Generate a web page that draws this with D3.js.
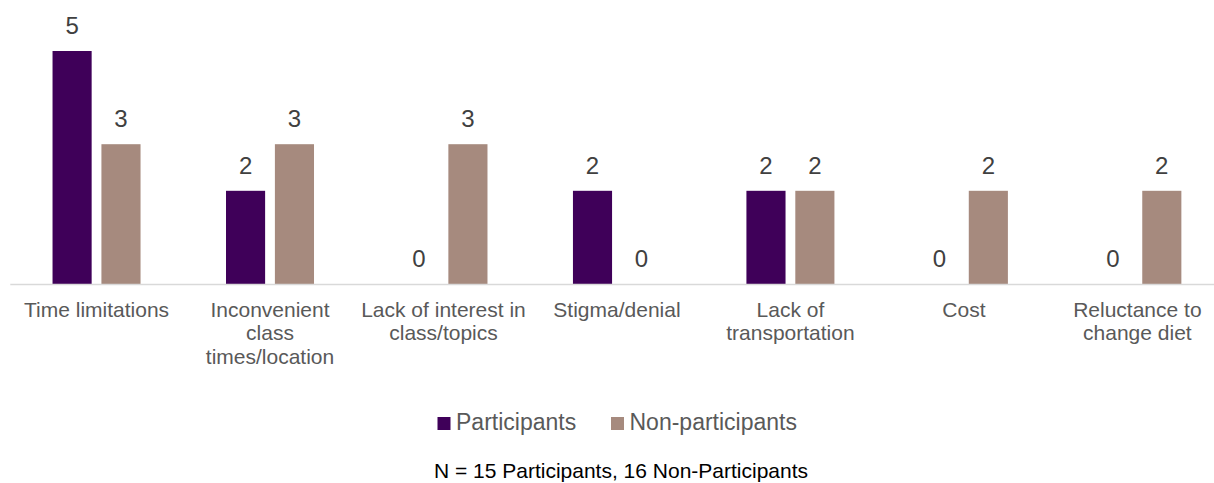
<!DOCTYPE html>
<html>
<head>
<meta charset="utf-8">
<script src="https://cdn.jsdelivr.net/npm/d3@7"></script>
<style>
  html, body { margin: 0; padding: 0; background: #fff; }
  svg { display: block; font-family: "Liberation Sans", Arial, sans-serif; }
</style>
</head>
<body>
<svg id="chart" width="1214" height="483"></svg>
<script>
// Reasons given for not attending classes, by group
const categories = [
  "Time limitations",
  "Inconvenient\nclass\ntimes/location",
  "Lack of interest in\nclass/topics",
  "Stigma/denial",
  "Lack of\ntransportation",
  "Cost",
  "Reluctance to\nchange diet"
];
const seriesNames = ["Participants", "Non-participants"];
const participants = [5, 2, 0, 2, 2, 0, 0];
const nonParticipants = [3, 3, 3, 0, 2, 2, 2];
const seriesColors = ["#3F0059", "#A68A7E"];
const footnote = "N = 15 Participants, 16 Non-Participants";

const seriesValues = [participants, nonParticipants];

const svg = d3.select("#chart");

const x0 = d3.scaleBand()
  .domain(categories)
  .range([9.8, 1224.1])
  .paddingInner(0)
  .paddingOuter(0);

const groupWidth = 88;
const x1 = d3.scaleBand()
  .domain(seriesNames)
  .range([0, groupWidth])
  .paddingInner(0.2);

const y = d3.scaleLinear()
  .domain([0, 5])
  .range([284, 51]);

const groupOffset = (x0.bandwidth() - groupWidth) / 2;

// Bars and value labels
const groups = svg.append("g")
  .selectAll("g")
  .data(categories)
  .join("g")
  .attr("transform", d => `translate(${x0(d) + groupOffset},0)`);

groups.selectAll("rect")
  .data((d, i) => seriesNames.map((s, j) => ({ s, v: seriesValues[j][i], c: seriesColors[j] })))
  .join("rect")
  .attr("x", d => x1(d.s))
  .attr("width", x1.bandwidth())
  .attr("y", d => y(d.v))
  .attr("height", d => y(0) - y(d.v))
  .attr("fill", d => d.c);

groups.selectAll("text.val")
  .data((d, i) => seriesNames.map((s, j) => ({ s, v: seriesValues[j][i] })))
  .join("text")
  .attr("class", "val")
  .attr("x", d => x1(d.s) + x1.bandwidth() / 2)
  .attr("y", d => y(d.v) - 17)
  .attr("text-anchor", "middle")
  .attr("font-size", 24)
  .attr("fill", "#404040")
  .text(d => d.v);

// Category axis
const xAxis = svg.append("g")
  .attr("transform", `translate(0,${y(0)})`)
  .call(d3.axisBottom(x0).tickSize(0).tickFormat(""));
xAxis.select(".domain").attr("stroke", "#D9D9D9").attr("stroke-width", 1.3);

xAxis.selectAll(".tick").each(function(d) {
  const t = d3.select(this).append("text")
    .attr("text-anchor", "middle")
    .attr("font-size", 21)
    .attr("fill", "#595959")
    .attr("y", 32.5);
  d.split("\n").forEach((line, k) => {
    t.append("tspan").attr("x", 0).attr("dy", k === 0 ? 0 : 23.8).text(line);
  });
});

// Legend
const legendItems = [
  { name: seriesNames[0], color: seriesColors[0], x: 437.5 },
  { name: seriesNames[1], color: seriesColors[1], x: 611 }
];
const legend = svg.append("g");
legendItems.forEach(it => {
  legend.append("rect")
    .attr("x", it.x).attr("y", 417)
    .attr("width", 13).attr("height", 13)
    .attr("fill", it.color);
  legend.append("text")
    .attr("x", it.x + 18.5).attr("y", 430)
    .attr("font-size", 23)
    .attr("fill", "#595959")
    .text(it.name);
});

// Sample-size note
svg.append("text")
  .attr("x", 621).attr("y", 478)
  .attr("text-anchor", "middle")
  .attr("font-size", 21)
  .attr("fill", "#000")
  .text(footnote);
</script>
</body>
</html>
